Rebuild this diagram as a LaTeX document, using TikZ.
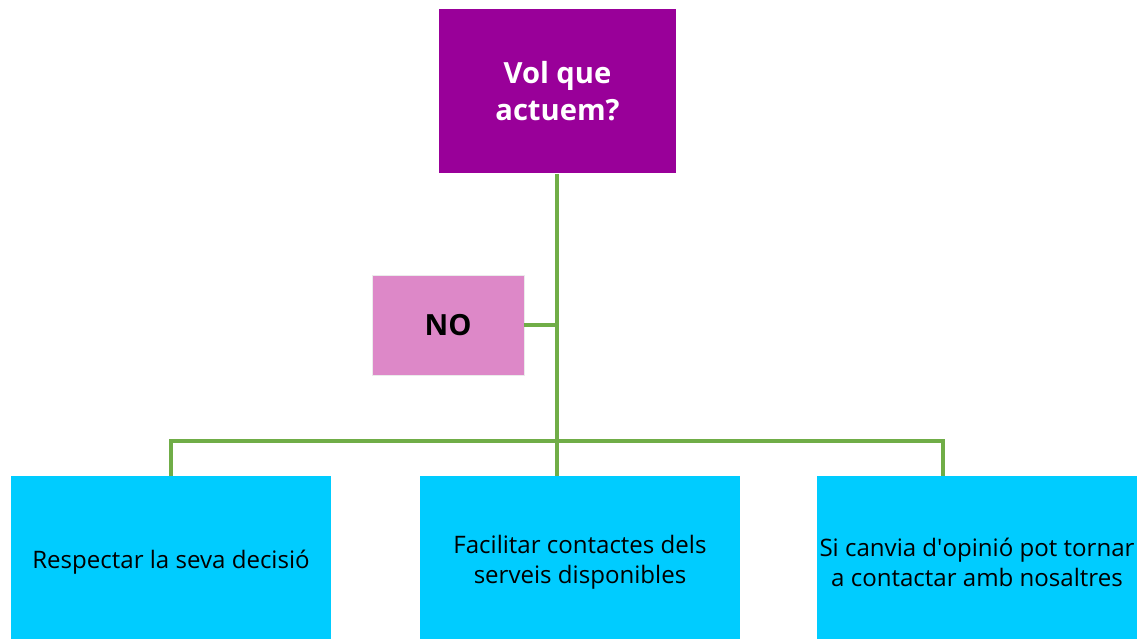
\documentclass[tikz,border=0pt]{standalone}
\usepackage{fontspec}
\setmainfont{Open Sans}
\definecolor{qpurple}{HTML}{990099}
\definecolor{qpink}{HTML}{DD88C8}
\definecolor{qcyan}{HTML}{00CCFF}
\definecolor{qgreen}{HTML}{70AD47}
\tikzset{link/.style = {draw=qgreen, line width=2.2pt}}

\begin{document}
\begin{tikzpicture}[x=0.02cm,y=-0.02cm,
    question/.style={fill=qpurple, text=white, align=center, inner sep=0pt,
        minimum width=4.74cm, minimum height=3.3cm,
        font={\fontsize{16.6}{21}\selectfont\bfseries}},
    answer/.style={fill=qpink, inner sep=0pt, draw=black!8, line width=0.4pt,
        minimum width=3.04cm, minimum height=2cm,
        font={\fontsize{16.6}{20}\selectfont\bfseries}},
    action/.style={fill=qcyan, align=center, inner sep=0pt,
        minimum width=6.4cm, minimum height=3.46cm,
        font={\fontsize{13.7}{16.8}\selectfont}},
    ]
    % Page frame
    \useasboundingbox[fill=white] (0,0) rectangle (1147,639);

    \node[question] (ask) at (557.5,91) {Vol que\\actuem?};
    \node[answer] (no) at (448,325) {\raisebox{-1.2pt}{NO}};

    % boxes run past the bottom edge of the page
    \node[action] (keep) at (171,562.5) {Respectar la seva decisió};
    \node[action] (help) at (580,562.5) {Facilitar contactes dels\\serveis disponibles};
    \node[action] (back) at (977,562.5) {Si canvia d\textquotesingle opinió pot tornar\\a contactar amb nosaltres};

    % Tree lines
    \coordinate (hub) at (557,441);
    \coordinate (rdrop) at (943,441);
    \draw[link] (ask.south -| hub) -- (hub);
    \draw[link] (no.east) -- (no.east -| hub);
    \draw[link] (keep.north) |- (rdrop) -- (rdrop |- back.north);
    \draw[link] (hub) -- (hub |- help.north);

\end{tikzpicture}
\end{document}
